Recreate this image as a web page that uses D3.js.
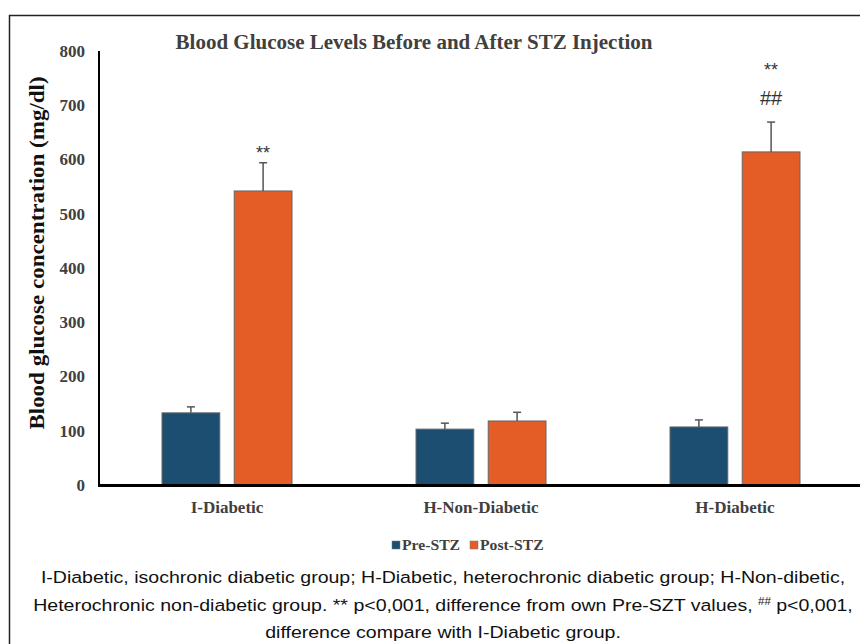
<!DOCTYPE html>
<html>
<head>
<meta charset="utf-8">
<script src="https://cdn.jsdelivr.net/npm/d3@7"></script>
<style>
  body { margin: 0; background: #fff; }
  svg { display: block; }
</style>
</head>
<body>
<svg width="860" height="644"></svg>
<script>
// chart data
var groups = ["I-Diabetic", "H-Non-Diabetic", "H-Diabetic"];
var series = ["Pre-STZ", "Post-STZ"];
var preValues = [133, 103, 107];
var postValues = [542, 118, 614];
var preErrors = [11, 11, 13];
var postErrors = [52, 16, 55];
var yTicks = [0, 100, 200, 300, 400, 500, 600, 700, 800];
var marks = [
    { group: "I-Diabetic", text: "**", level: 0 },
    { group: "H-Diabetic", text: "##", level: 0 },
    { group: "H-Diabetic", text: "**", level: 1 }
];
var captionLines = [
    [["I-Diabetic, isochronic diabetic group; H-Diabetic, heterochronic diabetic group; H-Non-dibetic,", false]],
    [["Heterochronic non-diabetic group. ** p<0,001, difference from own Pre-SZT values,  ", false], ["##", true], [" p<0,001,", false]],
    [["difference compare with I-Diabetic group.", false]]
];

var colors = { "Pre-STZ": "#1c4e72", "Post-STZ": "#e45c26" };
var serif = "'Liberation Serif', 'Times New Roman', serif";
var sans = "'Liberation Sans', Arial, sans-serif";

var svg = d3.select("svg");

// outer frame (runs off the right and bottom edge)
svg.append("rect")
    .attr("x", 9.5).attr("y", 15.5)
    .attr("width", 900).attr("height", 700)
    .attr("fill", "none")
    .attr("stroke", "#222")
    .attr("stroke-width", 1.5);

var y = d3.scaleLinear().domain([0, 800]).range([485, 51]);
var x0 = d3.scaleBand().domain(groups).range([100, 862]);
var x1 = d3.scaleBand().domain(series).range([0, 130]).paddingInner(0.2);
var groupOffset = (x0.bandwidth() - 130) / 2;

var rows = groups.map(function(g, i) {
    return [
        { group: g, key: "Pre-STZ", value: preValues[i], err: preErrors[i] },
        { group: g, key: "Post-STZ", value: postValues[i], err: postErrors[i] }
    ];
});

// title
svg.append("text")
    .attr("transform", "translate(414,49) scale(1.05,1)")
    .attr("text-anchor", "middle")
    .style("font-family", serif)
    .style("font-weight", "bold")
    .style("font-size", "20px")
    .attr("fill", "#404040")
    .text("Blood Glucose Levels Before and After STZ Injection");

// y tick labels
svg.append("g").selectAll("text")
    .data(yTicks)
    .enter().append("text")
    .attr("x", 85)
    .attr("y", function(d) { return y(d); })
    .attr("dy", "0.35em")
    .attr("text-anchor", "end")
    .style("font-family", serif)
    .style("font-weight", "bold")
    .style("font-size", "17px")
    .attr("fill", "#404040")
    .text(function(d) { return d; });

// y axis title
svg.append("text")
    .attr("transform", "translate(44,253) rotate(-90) scale(1.15,1)")
    .attr("text-anchor", "middle")
    .style("font-family", serif)
    .style("font-weight", "bold")
    .style("font-size", "20px")
    .attr("fill", "#111")
    .text("Blood glucose concentration (mg/dl)");

// bars
var gGroups = svg.append("g").selectAll("g")
    .data(rows)
    .enter().append("g")
    .attr("transform", function(d) { return "translate(" + (x0(d[0].group) + groupOffset) + ",0)"; });

gGroups.selectAll("rect")
    .data(function(d) { return d; })
    .enter().append("rect")
    .attr("x", function(d) { return x1(d.key); })
    .attr("y", function(d) { return y(d.value); })
    .attr("width", x1.bandwidth())
    .attr("height", function(d) { return y(0) - y(d.value); })
    .attr("fill", function(d) { return colors[d.key]; })
    .attr("stroke", "#666")
    .attr("stroke-width", 1);

// error bars (upper only)
var errs = gGroups.selectAll("g.err")
    .data(function(d) { return d; })
    .enter().append("g")
    .attr("class", "err")
    .attr("stroke", "#555")
    .attr("stroke-width", 1.5);

errs.append("line")
    .attr("x1", function(d) { return x1(d.key) + x1.bandwidth() / 2; })
    .attr("x2", function(d) { return x1(d.key) + x1.bandwidth() / 2; })
    .attr("y1", function(d) { return y(d.value); })
    .attr("y2", function(d) { return y(d.value + d.err); });

errs.append("line")
    .attr("x1", function(d) { return x1(d.key) + x1.bandwidth() / 2 - 4; })
    .attr("x2", function(d) { return x1(d.key) + x1.bandwidth() / 2 + 4; })
    .attr("y1", function(d) { return y(d.value + d.err); })
    .attr("y2", function(d) { return y(d.value + d.err); });

// significance marks over the Post-STZ bars
svg.append("g").selectAll("text")
    .data(marks)
    .enter().append("text")
    .attr("x", function(d) { return x0(d.group) + groupOffset + x1("Post-STZ") + x1.bandwidth() / 2; })
    .attr("y", function(d) {
        var i = groups.indexOf(d.group);
        var top = y(postValues[i] + postErrors[i]);
        if (d.text == "##") return top - 24;
        return top - 10 - d.level * 42;
    })
    .attr("dy", "0.35em")
    .attr("text-anchor", "middle")
    .style("font-family", sans)
    .style("font-size", function(d) { return d.text == "##" ? "20px" : "18px"; })
    .attr("fill", "#333")
    .text(function(d) { return d.text; });

// axes lines
svg.append("line")
    .attr("x1", 99).attr("x2", 99)
    .attr("y1", y(800)).attr("y2", y(0) + 1)
    .attr("stroke", "#000").attr("stroke-width", 2);

svg.append("line")
    .attr("x1", 98).attr("x2", 860)
    .attr("y1", y(0) + 0.5).attr("y2", y(0) + 0.5)
    .attr("stroke", "#000").attr("stroke-width", 3);

// category labels
svg.append("g").selectAll("text")
    .data(groups)
    .enter().append("text")
    .attr("x", function(d) { return x0(d) + x0.bandwidth() / 2; })
    .attr("y", 513)
    .attr("text-anchor", "middle")
    .style("font-family", serif)
    .style("font-weight", "bold")
    .style("font-size", "17px")
    .attr("fill", "#404040")
    .text(function(d) { return d; });

// legend
var legendX = [392, 470];
var legend = svg.append("g").selectAll("g")
    .data(series)
    .enter().append("g")
    .attr("transform", function(d, i) { return "translate(" + legendX[i] + ",545)"; });

legend.append("rect")
    .attr("x", 0).attr("y", -4)
    .attr("width", 8).attr("height", 8)
    .attr("fill", function(d) { return colors[d]; })
    .attr("stroke", "#777").attr("stroke-width", 0.5);

legend.append("text")
    .attr("transform", "translate(10,0) scale(1.12,1)")
    .attr("dy", "0.35em")
    .style("font-family", serif)
    .style("font-weight", "bold")
    .style("font-size", "14px")
    .attr("fill", "#404040")
    .text(function(d) { return d; });

// caption
var caption = svg.append("g").selectAll("text")
    .data(captionLines)
    .enter().append("text")
    .attr("transform", function(d, i) { return "translate(443," + [583, 611, 638][i] + ") scale(1.15,1)"; })
    .attr("text-anchor", "middle")
    .style("font-family", sans)
    .style("font-size", "17px")
    .attr("fill", "#111");

caption.selectAll("tspan")
    .data(function(d) { return d; })
    .enter().append("tspan")
    .style("font-size", function(d) { return d[1] ? "10px" : null; })
    .attr("dy", function(d, i) { return d[1] ? -6 : (i > 0 ? 6 : 0); })
    .text(function(d) { return d[0]; });
</script>
</body>
</html>
